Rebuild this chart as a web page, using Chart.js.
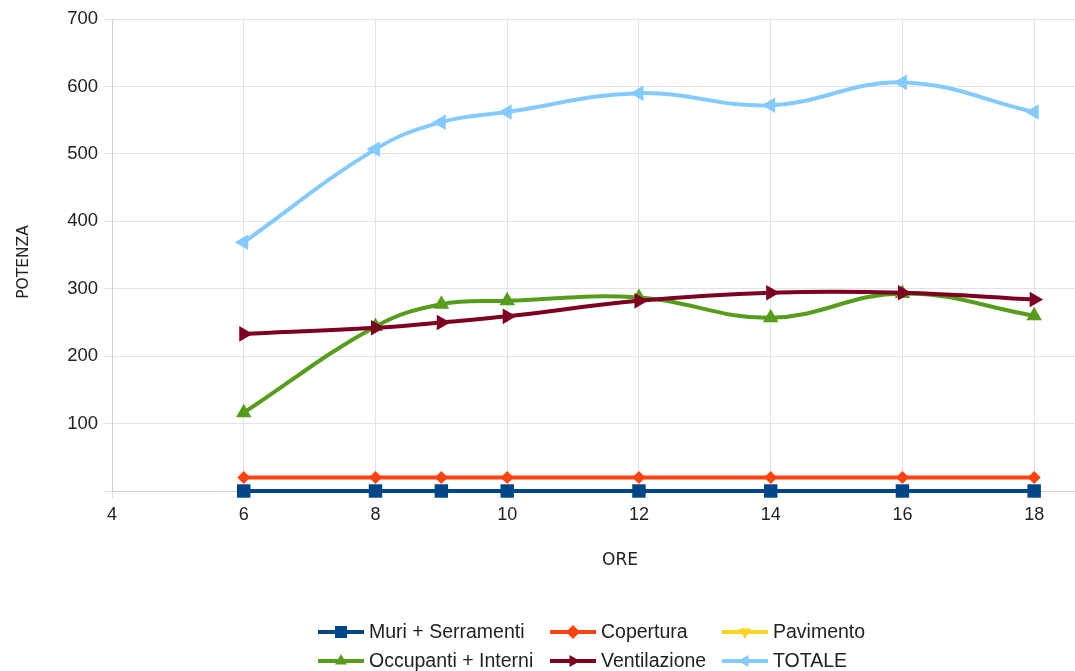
<!DOCTYPE html>
<html>
<head>
<meta charset="utf-8">
<script src="https://cdn.jsdelivr.net/npm/chart.js@4/dist/chart.umd.min.js"></script>
<style>
html,body{margin:0;padding:0;background:#fff;overflow:hidden;}
#wrap{position:relative;width:1075px;height:671px;}
</style>
</head>
<body>
<div id="wrap"><canvas id="c" width="1075" height="671"></canvas></div>
<script>
// ---- data ----
const hours = [6, 8, 9, 10, 12, 14, 16, 18];
const muriSerramenti = [0, 0, 0, 0, 0, 0, 0, 0];
const copertura = [20, 20, 20, 20, 20, 20, 20, 20];
const pavimento = [0, 0, 0, 0, 0, 0, 0, 0];
const occupantiInterni = [116, 244, 277, 282, 287, 257, 293, 260];
const ventilazione = [233, 242, 250, 259, 282, 294, 294, 284];
const totale = [369, 507, 547, 562, 590, 572, 606, 562];
const xTicks = [4, 6, 8, 10, 12, 14, 16, 18];
const yTicks = [0, 100, 200, 300, 400, 500, 600, 700];
const seriesNames = ['Muri + Serramenti', 'Copertura', 'Pavimento', 'Occupanti + Interni', 'Ventilazione', 'TOTALE'];
const xTitle = 'ORE';
const yTitle = 'POTENZA';

const toPts = arr => hours.map((h, i) => ({x: h, y: arr[i]}));

const styles = [
  {color: '#004586', pointStyle: 'rect', rotation: 0, radius: 9.5, order: 4},
  {color: '#ff420e', pointStyle: 'rectRot', rotation: 0, radius: 6.5, order: 3},
  {color: '#ffd320', pointStyle: 'triangle', rotation: 180, radius: 4, order: 6},
  {color: '#579d1c', pointStyle: 'triangle', rotation: 0, radius: 9, order: 2},
  {color: '#7e0021', pointStyle: 'triangle', rotation: 90, radius: 9, order: 1},
  {color: '#83caff', pointStyle: 'triangle', rotation: -90, radius: 9, order: 0}
];
const seriesData = [muriSerramenti, copertura, pavimento, occupantiInterni, ventilazione, totale];

const datasets = seriesData.map((d, i) => ({
  label: seriesNames[i],
  data: toPts(d),
  borderColor: styles[i].color,
  backgroundColor: styles[i].color,
  borderWidth: 4,
  pointStyle: styles[i].pointStyle,
  pointRotation: styles[i].rotation,
  pointRadius: styles[i].radius,
  pointHoverRadius: styles[i].radius,
  pointBorderWidth: 0,
  tension: 0.4,
  clip: false,
  order: styles[i].order
}));

function drawMarker(ctx, style, radius, x, y) {
  if (Chart.helpers && Chart.helpers.drawPoint) {
    Chart.helpers.drawPoint(ctx, {pointStyle: style.pointStyle, rotation: style.rotation, radius: radius, borderWidth: 0}, x, y);
  }
}

const overlay = {
  id: 'overlay',
  afterDraw(chart) {
    const ctx = chart.ctx;
    ctx.save();
    // axis titles
    ctx.fillStyle = '#222';
    ctx.font = '17px "DejaVu Sans"';
    ctx.textAlign = 'center';
    ctx.textBaseline = 'middle';
    ctx.fillText(xTitle, 620, 561);
    ctx.save();
    ctx.translate(24, 262);
    ctx.rotate(-Math.PI / 2);
    ctx.font = '15.5px "DejaVu Sans"';
    ctx.fillText(yTitle, 0, 0);
    ctx.restore();

    // legend: 2 rows x 3 columns
    ctx.font = '19.5px "Liberation Sans"';
    ctx.textAlign = 'left';
    const lineLen = 46, textOff = 51;
    const cols = 3, rows = 2;
    const colX = [318, 550, 722];
    const rowY = [632, 661];
    for (let c = 0; c < cols; c++) {
      for (let r = 0; r < rows; r++) {
        const idx = r * cols + c;
        const st = styles[idx];
        const x = colX[c];
        const y = rowY[r];
        ctx.strokeStyle = st.color;
        ctx.fillStyle = st.color;
        ctx.lineWidth = 4;
        ctx.beginPath();
        ctx.moveTo(x, y);
        ctx.lineTo(x + lineLen, y);
        ctx.stroke();
        drawMarker(ctx, st, st.pointStyle === 'rect' ? 8.5 : 7, x + lineLen / 2, y);
        ctx.fillStyle = '#222';
        ctx.textBaseline = 'middle';
        ctx.fillText(seriesNames[idx], x + textOff, y + 1);
      }
    }
    ctx.restore();
  }
};

new Chart(document.getElementById('c'), {
  type: 'line',
  data: {datasets},
  options: {
    responsive: false,
    animation: false,
    devicePixelRatio: 1,
    layout: {padding: {top: 19, right: 0, bottom: 140, left: 0}, autoPadding: false},
    plugins: {legend: {display: false}, tooltip: {enabled: false}},
    scales: {
      x: {
        type: 'linear',
        min: 4,
        max: 18.62,
        afterBuildTicks: s => { s.ticks = xTicks.map(v => ({value: v})); },
        afterFit: s => { s.height = 40; s.paddingLeft = 0; s.paddingRight = 0; },
        grid: {color: '#e3e3e3', lineWidth: 1, tickLength: 7, drawTicks: true},
        border: {color: '#d0d0d0'},
        ticks: {color: '#222', font: {family: 'Liberation Sans', size: 18}, padding: 6, maxRotation: 0,
          callback: v => String(v)}
      },
      y: {
        min: 0,
        max: 700,
        afterBuildTicks: s => { s.ticks = yTicks.map(v => ({value: v})); },
        afterFit: s => { s.width = 112; s.paddingTop = 0; s.paddingBottom = 0; },
        grid: {color: '#e3e3e3', lineWidth: 1, tickLength: 8},
        border: {color: '#d0d0d0'},
        ticks: {color: '#222', font: {family: 'Liberation Sans', size: 18.5}, padding: 6,
          callback: v => (v === 0 ? '' : String(v))}
      }
    }
  },
  plugins: [overlay]
});
</script>
</body>
</html>
